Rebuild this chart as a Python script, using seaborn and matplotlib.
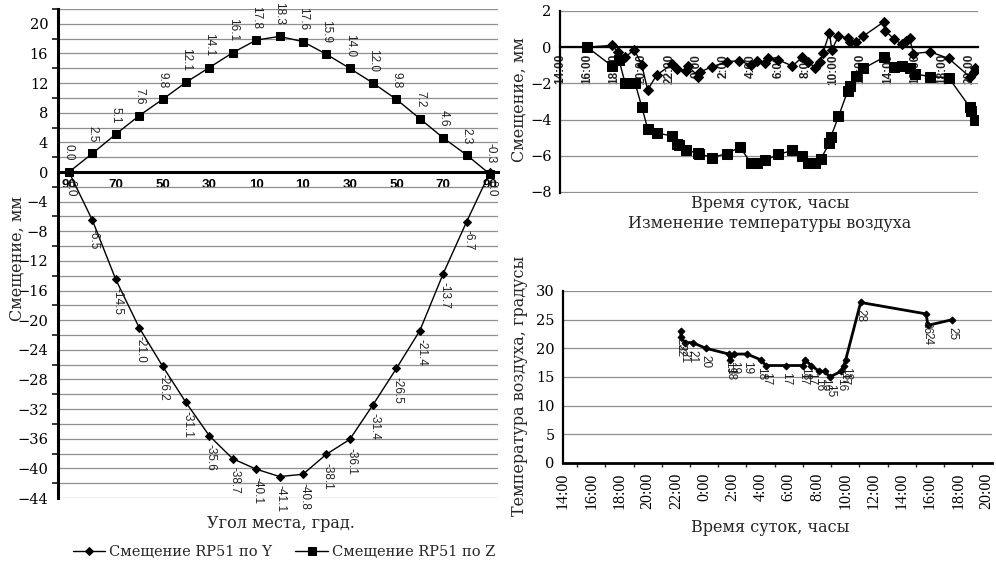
import numpy as np
import pandas as pd
import matplotlib
matplotlib.use('Agg')
import matplotlib.pyplot as plt
import seaborn as sns
from matplotlib.ticker import FixedLocator, FuncFormatter, MultipleLocator

# ---------------- data: left chart ----------------
angle_pos = [-90, -80, -70, -60, -50, -40, -30, -20, -10, 0, 10, 20, 30, 40, 50, 60, 70, 80, 90]
z_disp = [0.0, 2.5, 5.1, 7.6, 9.8, 12.1, 14.1, 16.1, 17.8, 18.3, 17.6, 15.9, 14.0, 12.0, 9.8, 7.2, 4.6, 2.3, -0.3]
y_disp = [0.0, -6.5, -14.5, -21.0, -26.2, -31.1, -35.6, -38.7, -40.1, -41.1, -40.8, -38.1, -36.1, -31.4,
          -26.5, -21.4, -13.7, -6.7, 0.0]
angle_tick_labels = ['90', '', '70', '', '50', '', '30', '', '10', '', '10', '', '30', '', '50', '', '70', '', '90']

# ---------------- data: top-right chart (hours from 0:00 of day 1) ----------------
tz_hours = [16.0, 17.79, 18.32, 18.76, 19.49, 19.99, 20.42, 21.08, 22.2, 22.55, 22.7, 23.23, 24.09, 24.2,
            25.16, 26.21, 27.19, 27.97, 28.45, 29.02, 29.99, 31.02, 31.71, 32.19, 32.68, 33.1, 33.73,
            33.83, 34.39, 35.05, 35.25, 35.66, 36.22, 37.69, 38.47, 39.03, 39.59, 40.01, 41.11, 42.45,
            43.99, 44.11, 44.4]
tz_vals = [0.0, -1.03, -0.70, -1.96, -1.96, -3.30, -4.50, -4.75, -4.90, -5.35, -5.40, -5.70, -5.85, -5.90,
           -6.10, -5.88, -5.53, -6.40, -6.40, -6.25, -5.93, -5.70, -5.99, -6.40, -6.40, -6.17, -5.30,
           -4.96, -3.83, -2.45, -2.14, -1.60, -1.17, -0.57, -1.08, -1.03, -1.13, -1.48, -1.63, -1.68,
           -3.30, -3.55, -4.00]
ty_hours = [16.0, 17.79, 18.27, 18.76, 19.44, 19.99, 20.42, 21.08, 22.23, 22.55, 23.21, 23.36, 24.14, 24.26,
            25.16, 26.21, 27.14, 27.97, 28.45, 29.02, 29.26, 29.99, 31.02, 31.71, 32.19, 32.68, 33.05,
            33.25, 33.73, 33.9, 34.39, 35.05, 35.25, 35.66, 36.22, 37.69, 37.81, 38.47, 39.03, 39.35,
            39.59, 39.88, 41.11, 42.45, 43.99, 44.28, 44.4]
ty_vals = [0.0, 0.10, -0.26, -0.57, -0.13, -0.99, -2.36, -1.54, -0.93, -1.22, -1.32, -1.03, -1.63, -1.36,
           -1.08, -0.80, -0.75, -0.99, -0.77, -0.90, -0.62, -0.71, -1.04, -0.57, -0.84, -1.13, -0.80,
           -0.31, 0.79, -0.16, 0.62, 0.51, 0.26, 0.26, 0.62, 1.39, 0.90, 0.44, 0.16, 0.35,
           0.48, -0.35, -0.26, -0.62, -1.63, -1.36, -1.17]

# ---------------- data: bottom-right chart ----------------
temp_hours = [22.35, 22.35, 22.63, 23.18, 24.12, 25.75, 25.82, 26.1, 27.04, 28.01, 28.37, 29.83, 31.0,
              31.13, 31.6, 32.14, 32.54, 32.9, 33.72, 33.89, 34.03, 35.09, 39.74, 39.85, 41.58]
temp_vals = [23, 22, 21, 21, 20, 19, 18, 19, 19, 18, 17, 17, 17, 18, 17, 16, 16, 15, 16, 17, 18, 28, 26, 24, 25]

time_ticks = list(range(14, 45, 2))

# ---------------- style ----------------
sns.set_theme(style='white')
plt.rcParams['font.family'] = ['DejaVu Serif']
plt.rcParams['axes.unicode_minus'] = True
SANS = ['Liberation Sans', 'DejaVu Sans']
GRID = '#8f8f8f'

fig = plt.figure(figsize=(9.96, 5.66), dpi=100)
axL = fig.add_axes([0.0582, 0.1201, 0.4418, 0.8640])
axT = fig.add_axes([0.5622, 0.659, 0.4197, 0.3216])
axB = fig.add_axes([0.5653, 0.1820, 0.4307, 0.3039])

def minus_fmt(v, p):
    s = '%d' % round(v)
    return s.replace('-', '\u2212')

# ================= LEFT CHART =================
axL.spines['bottom'].set_position(('data', 0))
dfL = pd.DataFrame({'pos': angle_pos, 'Y': y_disp, 'Z': z_disp})
sns.lineplot(data=dfL, x='pos', y='Y', ax=axL, color='black', lw=1.0, marker='D', markersize=4.5,
             markeredgecolor='black', markerfacecolor='black', sort=False, estimator=None,
             label='Смещение RP51 по Y')
sns.lineplot(data=dfL, x='pos', y='Z', ax=axL, color='black', lw=1.0, marker='s', markersize=5.5,
             markeredgecolor='black', markerfacecolor='black', sort=False, estimator=None,
             label='Смещение RP51 по Z')
handles, labels = axL.get_legend_handles_labels()
if axL.get_legend():
    axL.get_legend().remove()

for xp, v in zip(angle_pos, z_disp):
    axL.annotate('%.1f' % v, (xp, v), xytext=(0, 8), textcoords='offset points', rotation=270,
                 ha='center', va='bottom', fontsize=8.5, family=SANS, color='#222222')
for xp, v in zip(angle_pos, y_disp):
    axL.annotate('%.1f' % v, (xp, v), xytext=(1, -6), textcoords='offset points', rotation=270,
                 ha='center', va='top', fontsize=8.5, family=SANS, color='#222222')

axL.set_xlim(-94.7, 93.4)
axL.set_ylim(-44, 22)
axL.yaxis.set_major_locator(FixedLocator(list(range(-44, 21, 4))))
axL.yaxis.set_minor_locator(FixedLocator(list(range(-42, 23, 4))))
axL.yaxis.set_major_formatter(FuncFormatter(minus_fmt))
axL.grid(axis='y', which='both', color=GRID, lw=0.9)
axL.set_axisbelow(True)
axL.set_xticks(angle_pos)
axL.set_xticklabels(angle_tick_labels, fontsize=9.5, fontweight='bold', family=SANS)
for s in ['top', 'right']:
    axL.spines[s].set_visible(False)
axL.spines['left'].set_linewidth(2.2)
axL.spines['left'].set_color('black')
axL.spines['bottom'].set_linewidth(2.2)
axL.spines['bottom'].set_color('black')
axL.tick_params(axis='x', direction='out', length=4, width=1.3, pad=1, colors='black')
axL.tick_params(axis='y', which='major', direction='out', length=5, width=1.3, labelsize=10.5, pad=2,
                colors='black')
axL.tick_params(axis='y', which='minor', direction='out', length=4, width=1.3, left=True)
axL.set_xlabel('')
axL.set_ylabel('')

fig.text(17 / 996, 1 - 259 / 566, 'Смещение, мм', rotation=90, ha='center', va='center', fontsize=11.5)
fig.text(281 / 996, 1 - 523 / 566, 'Угол места, град.', ha='center', va='center', fontsize=11.5)
fig.legend(handles, labels, loc='center', bbox_to_anchor=(284 / 996, 1 - 552 / 566), ncol=2,
           frameon=False, fontsize=10.5, handlelength=2.2, columnspacing=1.6, handletextpad=0.3)

# ================= TOP-RIGHT CHART =================
axT.spines['bottom'].set_position(('data', 0))
dfZ = pd.DataFrame({'t': tz_hours, 'v': tz_vals})
dfY = pd.DataFrame({'t': ty_hours, 'v': ty_vals})
sns.lineplot(data=dfY, x='t', y='v', ax=axT, color='black', lw=1.0, marker='D', markersize=5,
             markeredgecolor='black', markerfacecolor='black', sort=False, estimator=None)
sns.lineplot(data=dfZ, x='t', y='v', ax=axT, color='black', lw=1.0, marker='s', markersize=7,
             markeredgecolor='black', markerfacecolor='black', sort=False, estimator=None)
axT.set_xlim(14, 44.6)
axT.set_ylim(-8.06, 2)
axT.yaxis.set_major_locator(FixedLocator([-8, -6, -4, -2, 0, 2]))
axT.yaxis.set_major_formatter(FuncFormatter(minus_fmt))
axT.grid(axis='y', color=GRID, lw=0.9)
axT.set_axisbelow(True)
axT.set_xticks(time_ticks)
axT.set_xticklabels(['%d:00' % (h % 24) for h in time_ticks], rotation=90, fontsize=8.5,
                    fontweight='bold', family=SANS, color='#222222')
axT.spines['bottom'].set_linewidth(1.6)
axT.spines['bottom'].set_color('black')
axT.spines['left'].set_linewidth(1.6)
axT.spines['left'].set_color('black')
for s in ['top', 'right']:
    axT.spines[s].set_visible(False)
axT.tick_params(axis='x', direction='out', length=3, width=1, pad=2)
axT.tick_params(axis='y', direction='out', length=4, width=1.2, labelsize=10.5, pad=2, colors='black')
axT.set_xlabel('')
axT.set_ylabel('')
fig.text(519 / 996, 1 - 100 / 566, 'Смещение, мм', rotation=90, ha='center', va='center', fontsize=11.5)
fig.text(770 / 996, 1 - 204 / 566, 'Время суток, часы', ha='center', va='center', fontsize=11.5)
fig.text(770 / 996, 1 - 224 / 566, 'Изменение температуры воздуха', ha='center', va='center',
         fontsize=11.5)

# ================= BOTTOM-RIGHT CHART =================
dfT = pd.DataFrame({'t': temp_hours, 'v': temp_vals})
sns.lineplot(data=dfT, x='t', y='v', ax=axB, color='black', lw=2.0, marker='D', markersize=3.5,
             markeredgecolor='black', markerfacecolor='black', sort=False, estimator=None)
for xp, v in zip(temp_hours, temp_vals):
    axB.annotate('%d' % v, (xp, v), xytext=(0, -5), textcoords='offset points', rotation=270,
                 ha='center', va='top', fontsize=8.5, family=SANS, color='#222222')
axB.set_xlim(14, 44.4)
axB.set_ylim(0, 30)
axB.yaxis.set_major_locator(MultipleLocator(5))
axB.grid(axis='y', color=GRID, lw=0.9)
axB.set_axisbelow(True)
axB.set_xticks(time_ticks)
axB.xaxis.set_minor_locator(MultipleLocator(1))
axB.set_xticklabels(['%d:00' % (h % 24) for h in time_ticks], rotation=90, fontsize=11.5,
                    family=['Liberation Serif'])
for s in ['top', 'right']:
    axB.spines[s].set_visible(False)
axB.spines['bottom'].set_linewidth(2.0)
axB.spines['bottom'].set_color('black')
axB.spines['left'].set_linewidth(1.6)
axB.spines['left'].set_color('black')
axB.tick_params(axis='x', which='major', direction='out', length=4, width=1.2, pad=3, colors='black')
axB.tick_params(axis='x', which='minor', direction='out', length=3, width=1.0, bottom=True)
axB.tick_params(axis='y', direction='out', length=4, width=1.2, labelsize=10.5, pad=2, colors='black')
axB.set_xlabel('')
axB.set_ylabel('')
fig.text(519 / 996, 1 - 386 / 566, 'Температура воздуха, градусы', rotation=90, ha='center', va='center',
         fontsize=11.5)
fig.text(770 / 996, 1 - 527 / 566, 'Время суток, часы', ha='center', va='center', fontsize=11.5)

fig.savefig('out.png', dpi=100)
